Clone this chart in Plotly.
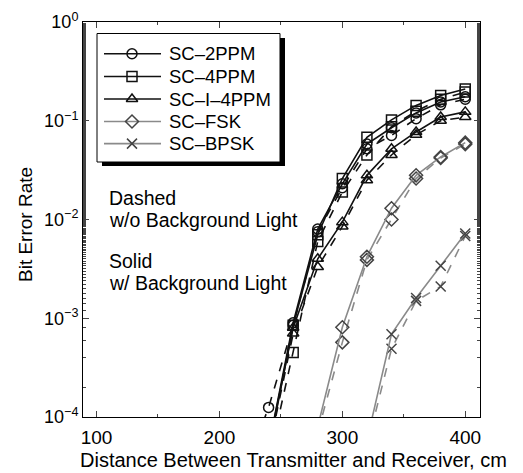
import plotly.graph_objects as go

# ---------------- data ----------------
dist_ppm = [240, 260, 280, 300, 320, 340, 360, 380, 400]
dist_2ppm_dashed = [220, 240, 260, 280, 300, 320, 340, 360, 380, 400]
dist_fsk = [280, 300, 320, 340, 360, 380, 400]
dist_bpsk = [320, 340, 360, 380, 400]

ber_2ppm_solid = [5e-5, 9.0e-4, 8.0e-3, 2.3e-2, 5.8e-2, 8.5e-2, 0.12, 0.155, 0.175]
ber_2ppm_dashed = [2.7e-5, 1.25e-4, 8.5e-4, 7.5e-3, 2.1e-2, 5.2e-2, 7.1e-2, 0.105, 0.145, 0.165]
ber_4ppm_solid = [4.5e-5, 8.5e-4, 7.0e-3, 2.6e-2, 6.8e-2, 0.102, 0.143, 0.18, 0.21]
ber_4ppm_dashed = [3.5e-5, 4.5e-4, 6.0e-3, 1.9e-2, 4.5e-2, 8.7e-2, 0.125, 0.165, 0.195]
ber_i4ppm_solid = [5e-5, 8.0e-4, 4.0e-3, 9.4e-3, 2.8e-2, 5.2e-2, 7.7e-2, 0.109, 0.123]
ber_i4ppm_dashed = [4.5e-5, 7.0e-4, 3.3e-3, 8.5e-3, 2.5e-2, 4.5e-2, 7.2e-2, 0.100, 0.109]
ber_fsk_solid = [8e-5, 8.1e-4, 4.2e-3, 1.3e-2, 2.8e-2, 4.3e-2, 6.0e-2]
ber_fsk_dashed = [7e-5, 5.7e-4, 3.9e-3, 1.0e-2, 2.6e-2, 4.2e-2, 5.8e-2]
ber_bpsk_solid = [5.8e-5, 6.9e-4, 1.6e-3, 3.4e-3, 7.2e-3]
ber_bpsk_dashed = [5e-5, 4.9e-4, 1.5e-3, 2.1e-3, 6.8e-3]

series_names = ["SC\u20132PPM", "SC\u20134PPM", "SC\u2013I\u20134PPM", "SC\u2013FSK", "SC\u2013BPSK"]
y_tick_vals = [1e-4, 1e-3, 1e-2, 1e-1, 1e0]
y_tick_text = ["10<sup>\u22124</sup>", "10<sup>\u22123</sup>", "10<sup>\u22122</sup>",
               "10<sup>\u22121</sup>", "10<sup>0</sup>"]
x_tick_vals = [100, 200, 300, 400]
note_lines = ["Dashed", "w/o Background Light", "Solid", "w/ Background Light"]
x_title = "Distance Between Transmitter and Receiver, cm"
y_title = "Bit Error Rate"

FONT = "Liberation Sans, Arial, sans-serif"
BLACK = "#111111"
GRAY = "#8a8a8a"
MGRAY = "#444444"

W, H = 523, 473
ML, MR, MT, MB = 83, 43, 22, 56
PW, PH = W - ML - MR, H - MT - MB


def fx(px):  # pixel -> fraction of plot area (x)
    return (px - ML) / PW


def fy(py):  # pixel -> fraction of plot area (y)
    return 1 - (py - MT) / PH


specs = [
    (series_names[0], dist_ppm, ber_2ppm_solid, dist_2ppm_dashed, ber_2ppm_dashed, "circle-open", BLACK, BLACK),
    (series_names[1], dist_ppm, ber_4ppm_solid, dist_ppm, ber_4ppm_dashed, "square-open", BLACK, BLACK),
    (series_names[2], dist_ppm, ber_i4ppm_solid, dist_ppm, ber_i4ppm_dashed, "triangle-up-open", BLACK, BLACK),
    (series_names[3], dist_fsk, ber_fsk_solid, dist_fsk, ber_fsk_dashed, "diamond-open", GRAY, MGRAY),
    (series_names[4], dist_bpsk, ber_bpsk_solid, dist_bpsk, ber_bpsk_dashed, "x-thin-open", GRAY, MGRAY),
]

fig = go.Figure()
for name, xs, ys, xd, yd, sym, lc, mc in specs:
    fig.add_trace(go.Scatter(
        x=xd, y=yd, mode="lines+markers", showlegend=False,
        line=dict(color=lc, width=1.6, dash="dash"),
        marker=dict(symbol=sym, size=10, color=mc, line=dict(color=mc, width=1.5)),
    ))
for name, xs, ys, xd, yd, sym, lc, mc in specs:
    fig.add_trace(go.Scatter(
        x=xs, y=ys, mode="lines+markers", name=name, showlegend=False,
        line=dict(color=lc, width=1.6),
        marker=dict(symbol=sym, size=10, color=mc, line=dict(color=mc, width=1.5)),
    ))

# ---------------- legend (drawn on an overlay axis in plot-area fractions) ----------------
leg_rows_px = [53.7, 76.5, 99.0, 121.5, 143.6]
for i, (name, xs, ys, xd, yd, sym, lc, mc) in enumerate(specs):
    yy = fy(leg_rows_px[i])
    fig.add_trace(go.Scatter(
        x=[fx(104), fx(161)], y=[yy, yy], mode="lines", xaxis="x2", yaxis="y2",
        showlegend=False, hoverinfo="skip", line=dict(color=lc, width=1.6)))
    fig.add_trace(go.Scatter(
        x=[fx(132)], y=[yy], mode="markers", xaxis="x2", yaxis="y2",
        showlegend=False, hoverinfo="skip",
        marker=dict(symbol=sym, size=10, color=mc, line=dict(color=mc, width=1.5))))
    fig.add_annotation(text=name, xref="x2", yref="y2", x=fx(167), y=yy,
                       xanchor="left", yanchor="middle", showarrow=False,
                       font=dict(size=18.5, family=FONT, color="black"))

# legend shadow and box
fig.add_shape(type="rect", xref="paper", yref="paper",
              x0=fx(102), x1=fx(285), y0=fy(166), y1=fy(38),
              fillcolor="black", line=dict(width=0), layer="below")
fig.add_shape(type="rect", xref="paper", yref="paper",
              x0=fx(97), x1=fx(280), y0=fy(162), y1=fy(33.5),
              fillcolor="white", line=dict(color="black", width=1), layer="below")

fig.update_layout(
    width=W, height=H,
    margin=dict(l=ML, r=MR, t=MT, b=MB, autoexpand=False),
    paper_bgcolor="white", plot_bgcolor="white",
    font=dict(family=FONT, size=18, color="black"),
    showlegend=False,
    xaxis=dict(range=[89, 412], tickvals=x_tick_vals, ticks="inside", ticklen=6,
               showline=True, linecolor="black", linewidth=1, mirror="ticks",
               showgrid=False, zeroline=False, automargin=False,
               minor=dict(ticks="inside", ticklen=3, dtick=50, showgrid=False),
               tickfont=dict(size=19), ticklabelstandoff=3),
    yaxis=dict(type="log", range=[-4, 0], tickvals=y_tick_vals, ticktext=y_tick_text,
               ticks="inside", ticklen=6,
               showline=True, linecolor="black", linewidth=1, mirror="ticks",
               showgrid=False, zeroline=False, automargin=False,
               minor=dict(ticks="inside", ticklen=3, showgrid=False),
               tickfont=dict(size=18)),
    xaxis2=dict(overlaying="x", range=[0, 1], visible=False, fixedrange=True),
    yaxis2=dict(overlaying="y", range=[0, 1], visible=False, fixedrange=True),
)

# axis titles
fig.add_annotation(text=x_title, xref="paper", yref="paper", x=fx(293), y=fy(460),
                   xanchor="center", yanchor="middle", showarrow=False,
                   font=dict(size=20, family=FONT))
fig.add_annotation(text=y_title, xref="paper", yref="paper", x=fx(26), y=fy(225),
                   xanchor="center", yanchor="middle", showarrow=False, textangle=-90,
                   font=dict(size=19, family=FONT))

for txt, ypx in zip(note_lines, [198, 220, 261, 283]):
    fig.add_annotation(text=txt, xref="paper", yref="paper",
                       x=fx(107), y=fy(ypx),
                       xanchor="left", yanchor="middle", showarrow=False,
                       font=dict(size=19.5, family=FONT))

fig.write_html("out.html")
